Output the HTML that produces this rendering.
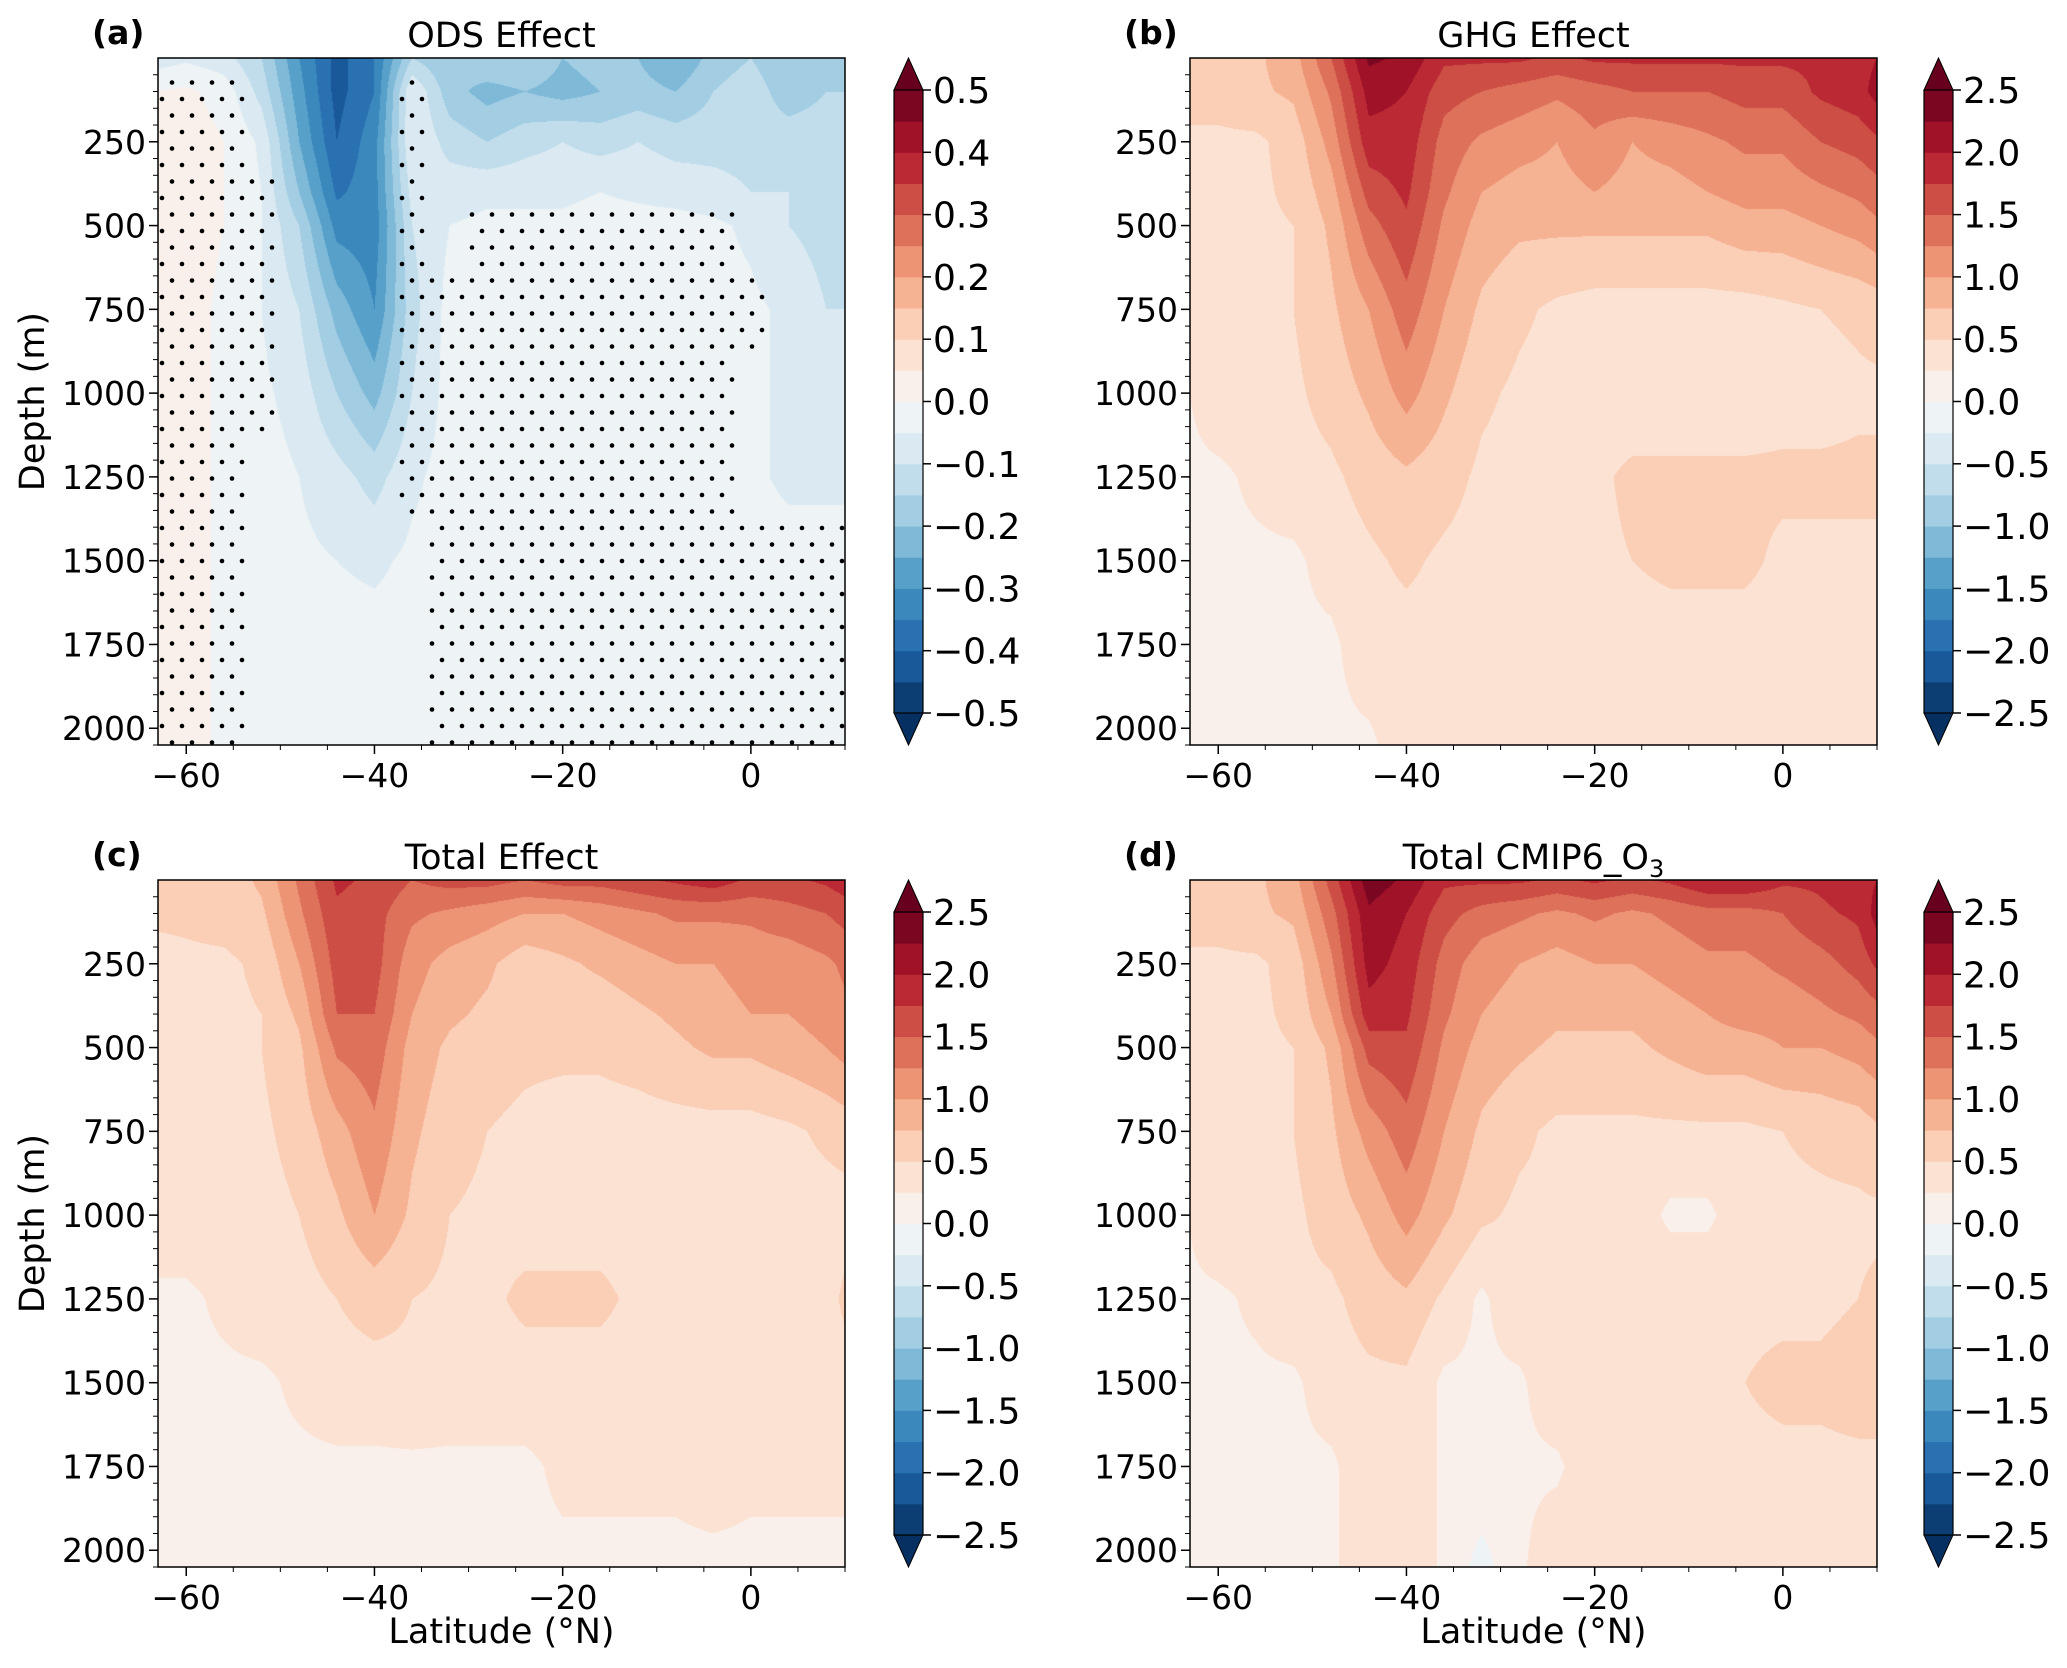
<!DOCTYPE html>
<html><head><meta charset="utf-8"><style>
body{margin:0;background:#fff;}
#wrap{position:relative;width:2067px;height:1668px;overflow:hidden;font-family:"DejaVu Sans","Liberation Sans",sans-serif;}
canvas{position:absolute;}
svg{position:absolute;left:0;top:0;font-family:"DejaVu Sans","Liberation Sans",sans-serif;}
</style></head><body>
<div id="wrap">
<canvas id="ca" width="687" height="687" style="left:158px;top:58px"></canvas>
<canvas id="cb" width="687" height="687" style="left:1190px;top:58px"></canvas>
<canvas id="cc" width="687" height="687" style="left:158px;top:880px"></canvas>
<canvas id="cd" width="687" height="687" style="left:1190px;top:880px"></canvas>
<svg id="svg" width="2067" height="1668"></svg>
</div>
<script>
const lats=[-64,-60,-56,-52,-48,-44,-40,-36,-32,-28,-24,-20,-16,-12,-8,-4,0,4,8,10];
const depths=[0,100,250,400,500,750,1000,1250,1500,1750,2050];
const xTicks=[-60,-40,-20,0];
const yTicks=[250,500,750,1000,1250,1500,1750,2000];
const odsVals=[
[-0.08,-0.06,-0.08,-0.15,-0.3,-0.42,-0.35,-0.15,-0.2,-0.15,-0.15,-0.2,-0.18,-0.2,-0.25,-0.18,-0.15,-0.2,-0.2,-0.2],
[0.0,0.01,-0.02,-0.12,-0.28,-0.42,-0.35,-0.05,-0.18,-0.22,-0.2,-0.22,-0.2,-0.18,-0.2,-0.15,-0.12,-0.18,-0.15,-0.15],
[0.02,0.03,0.0,-0.06,-0.25,-0.4,-0.32,-0.05,-0.12,-0.15,-0.12,-0.1,-0.12,-0.1,-0.12,-0.12,-0.12,-0.12,-0.12,-0.12],
[0.02,0.03,0.0,-0.05,-0.2,-0.36,-0.32,-0.08,-0.07,-0.06,-0.06,-0.06,-0.05,-0.06,-0.07,-0.08,-0.1,-0.1,-0.12,-0.1],
[0.02,0.02,0.0,-0.05,-0.15,-0.32,-0.33,-0.1,-0.05,-0.04,-0.04,-0.04,-0.03,-0.03,-0.03,-0.04,-0.06,-0.1,-0.12,-0.1],
[0.02,0.02,-0.01,-0.05,-0.1,-0.22,-0.3,-0.12,-0.03,-0.03,-0.03,-0.03,-0.03,-0.03,-0.03,-0.03,-0.04,-0.06,-0.1,-0.1],
[0.02,0.02,-0.01,-0.04,-0.07,-0.15,-0.22,-0.1,-0.03,-0.03,-0.03,-0.03,-0.03,-0.03,-0.03,-0.03,-0.04,-0.06,-0.07,-0.07],
[0.02,0.02,-0.01,-0.03,-0.05,-0.08,-0.12,-0.06,-0.03,-0.03,-0.03,-0.03,-0.03,-0.03,-0.03,-0.03,-0.04,-0.06,-0.06,-0.06],
[0.02,0.02,-0.01,-0.03,-0.04,-0.05,-0.06,-0.04,-0.03,-0.03,-0.03,-0.03,-0.03,-0.03,-0.03,-0.03,-0.03,-0.03,-0.03,-0.03],
[0.02,0.02,-0.01,-0.03,-0.03,-0.03,-0.03,-0.03,-0.03,-0.03,-0.03,-0.03,-0.03,-0.03,-0.03,-0.03,-0.03,-0.03,-0.03,-0.03],
[0.02,0.02,-0.01,-0.03,-0.03,-0.03,-0.03,-0.03,-0.03,-0.03,-0.03,-0.03,-0.03,-0.03,-0.03,-0.03,-0.03,-0.03,-0.03,-0.03]];
const odsStipple=[
[0,0,0,0,0,0,0,0,0,0,0,0,0,0,0,0,0,0,0,0],
[1,1,1,0,0,0,0,1,0,0,0,0,0,0,0,0,0,0,0,0],
[1,1,1,0,0,0,0,1,0,0,0,0,0,0,0,0,0,0,0,0],
[1,1,1,1,0,0,0,1,0,0,0,0,0,0,0,0,0,0,0,0],
[1,1,1,1,0,0,0,1,0,1,1,1,1,1,1,1,0,0,0,0],
[1,1,1,1,0,0,0,1,1,1,1,1,1,1,1,1,1,0,0,0],
[1,1,1,1,0,0,0,1,1,1,1,1,1,1,1,1,0,0,0,0],
[1,1,1,0,0,0,0,1,1,1,1,1,1,1,1,1,0,0,0,0],
[1,1,1,0,0,0,0,0,1,1,1,1,1,1,1,1,1,1,1,1],
[1,1,1,0,0,0,0,0,1,1,1,1,1,1,1,1,1,1,1,1],
[1,1,1,0,0,0,0,0,1,1,1,1,1,1,1,1,1,1,1,1]];
const ghgVals=[
[0.6,0.7,0.7,0.9,1.5,2.3,2.2,1.8,1.8,1.8,1.7,1.8,1.8,1.8,1.8,1.8,1.8,1.8,1.9,2.0],
[0.6,0.6,0.7,0.8,1.3,2.1,2.0,1.6,1.5,1.4,1.3,1.4,1.5,1.5,1.5,1.6,1.6,1.8,1.9,2.1],
[0.45,0.45,0.45,0.6,1.1,1.9,1.9,1.4,1.2,1.1,1.0,1.2,1.0,1.1,1.2,1.3,1.3,1.5,1.6,1.7],
[0.45,0.45,0.45,0.55,0.9,1.6,1.8,1.3,1.0,0.9,0.9,1.0,0.9,0.9,1.0,1.1,1.1,1.2,1.3,1.4],
[0.45,0.45,0.45,0.5,0.8,1.4,1.7,1.2,0.9,0.8,0.8,0.8,0.8,0.8,0.8,0.9,0.9,1.0,1.1,1.2],
[0.45,0.45,0.45,0.5,0.7,1.0,1.4,1.0,0.7,0.55,0.45,0.4,0.4,0.4,0.4,0.4,0.45,0.5,0.55,0.6],
[0.2,0.4,0.4,0.45,0.6,0.8,1.1,0.8,0.55,0.45,0.4,0.35,0.35,0.35,0.35,0.35,0.4,0.4,0.45,0.45],
[0.2,0.2,0.3,0.4,0.45,0.6,0.7,0.6,0.45,0.4,0.4,0.45,0.55,0.55,0.55,0.55,0.55,0.55,0.55,0.55],
[0.2,0.2,0.2,0.2,0.35,0.45,0.55,0.45,0.4,0.4,0.45,0.45,0.5,0.55,0.55,0.55,0.45,0.45,0.45,0.45],
[0.2,0.2,0.2,0.2,0.2,0.4,0.4,0.4,0.4,0.4,0.4,0.4,0.4,0.4,0.4,0.4,0.4,0.4,0.4,0.4],
[0.2,0.2,0.2,0.2,0.2,0.2,0.4,0.4,0.4,0.4,0.4,0.4,0.4,0.4,0.4,0.4,0.4,0.4,0.4,0.4]];
const totVals=[
[0.6,0.6,0.6,0.8,1.3,1.8,1.7,1.5,1.6,1.6,1.5,1.6,1.6,1.7,1.8,1.9,1.7,1.7,1.8,1.9],
[0.55,0.55,0.6,0.7,1.2,1.7,1.6,1.3,1.2,1.1,1.0,1.0,1.1,1.2,1.3,1.3,1.3,1.4,1.5,1.6],
[0.4,0.45,0.45,0.55,1.0,1.6,1.6,1.1,0.9,0.8,0.6,0.7,0.8,0.9,1.0,1.0,1.1,1.1,1.2,1.3],
[0.4,0.4,0.45,0.5,0.8,1.5,1.5,1.0,0.8,0.7,0.6,0.6,0.6,0.7,0.8,0.9,1.0,1.0,1.1,1.2],
[0.4,0.4,0.4,0.5,0.7,1.3,1.4,0.9,0.7,0.6,0.55,0.55,0.55,0.6,0.7,0.8,0.8,0.9,1.0,1.1],
[0.4,0.4,0.4,0.45,0.6,0.9,1.2,0.8,0.6,0.5,0.45,0.4,0.4,0.4,0.4,0.4,0.4,0.45,0.55,0.6],
[0.4,0.4,0.4,0.4,0.5,0.7,1.0,0.7,0.5,0.45,0.4,0.4,0.4,0.4,0.4,0.4,0.4,0.4,0.4,0.4],
[0.2,0.2,0.3,0.4,0.4,0.5,0.6,0.5,0.45,0.45,0.55,0.55,0.55,0.45,0.4,0.4,0.4,0.4,0.4,0.55],
[0.2,0.2,0.2,0.2,0.3,0.4,0.4,0.45,0.4,0.4,0.4,0.4,0.4,0.4,0.4,0.4,0.4,0.4,0.4,0.4],
[0.2,0.2,0.2,0.2,0.2,0.2,0.2,0.2,0.2,0.2,0.2,0.3,0.3,0.3,0.3,0.35,0.3,0.3,0.3,0.3],
[0.2,0.2,0.2,0.2,0.2,0.2,0.2,0.1,0.15,0.2,0.2,0.2,0.2,0.2,0.2,0.2,0.2,0.2,0.2,0.2]];
const cmipVals=[
[0.6,0.7,0.7,0.9,1.6,2.4,2.2,1.8,1.8,1.8,1.7,1.8,1.7,1.8,2.0,2.0,1.8,1.8,1.9,2.0],
[0.6,0.6,0.7,0.8,1.4,2.2,2.0,1.6,1.4,1.3,1.2,1.3,1.2,1.3,1.4,1.4,1.5,1.7,1.8,2.1],
[0.45,0.45,0.45,0.6,1.2,2.1,1.9,1.4,1.1,1.0,0.9,1.0,1.0,1.1,1.2,1.2,1.3,1.4,1.6,1.8],
[0.45,0.45,0.45,0.55,1.0,1.9,1.8,1.3,1.0,0.9,0.8,0.8,0.8,0.9,1.0,1.1,1.1,1.2,1.3,1.4],
[0.45,0.45,0.45,0.5,0.8,1.6,1.7,1.2,0.9,0.8,0.7,0.7,0.7,0.8,0.9,0.9,1.0,1.0,1.1,1.2],
[0.45,0.45,0.45,0.5,0.7,1.1,1.4,1.0,0.7,0.55,0.45,0.45,0.45,0.45,0.45,0.45,0.5,0.55,0.6,0.7],
[0.2,0.45,0.45,0.45,0.6,0.8,1.1,0.8,0.55,0.45,0.45,0.4,0.4,0.2,0.2,0.4,0.45,0.45,0.45,0.45],
[0.2,0.2,0.3,0.45,0.45,0.6,0.7,0.45,0.2,0.45,0.45,0.45,0.45,0.45,0.45,0.45,0.45,0.45,0.5,0.55],
[0.2,0.2,0.2,0.2,0.4,0.45,0.45,0.2,0.2,0.2,0.45,0.45,0.45,0.45,0.45,0.5,0.55,0.55,0.6,0.6],
[0.2,0.2,0.2,0.2,0.2,0.45,0.45,0.2,0.2,0.2,0.2,0.45,0.45,0.45,0.45,0.45,0.45,0.45,0.45,0.45],
[0.2,0.2,0.2,0.2,0.2,0.45,0.45,0.2,-0.1,0.2,0.45,0.45,0.45,0.45,0.45,0.45,0.45,0.45,0.45,0.45]];
const odsTicks=["0.5","0.4","0.3","0.2","0.1","0.0","\u22120.1","\u22120.2","\u22120.3","\u22120.4","\u22120.5"];
const bigTicks=["2.5","2.0","1.5","1.0","0.5","0.0","\u22120.5","\u22121.0","\u22121.5","\u22122.0","\u22122.5"];

const anchors=["#053061","#2166ac","#4393c3","#92c5de","#d1e5f0","#f7f7f7","#fddbc7","#f4a582","#d6604d","#b2182b","#67001f"].map(h=>[parseInt(h.slice(1,3),16),parseInt(h.slice(3,5),16),parseInt(h.slice(5,7),16)]);
function cmap(t){t=Math.max(0,Math.min(1,t));const f=t*10,i=Math.min(9,Math.floor(f)),r=f-i;return anchors[i].map((c,k)=>Math.round(c+(anchors[i+1][k]-c)*r));}
const bands=[];for(let i=0;i<20;i++)bands.push(cmap((i+0.5)/20));
const under=anchors[0],over=anchors[10];
const PW=687,PH=687,LAT0=-63,LAT1=10,D0=0,D1=2050;
const xs=l=>(l-LAT0)/(LAT1-LAT0)*PW;
const ys=d=>(d-D0)/(D1-D0)*PH;
function sample(vals,lat,d){
  let i=0;while(i<lats.length-2&&lats[i+1]<lat)i++;
  let j=0;while(j<depths.length-2&&depths[j+1]<d)j++;
  let u=(lat-lats[i])/(lats[i+1]-lats[i]);u=Math.max(0,Math.min(1,u));
  let v=(d-depths[j])/(depths[j+1]-depths[j]);v=Math.max(0,Math.min(1,v));
  return vals[j][i]*(1-u)*(1-v)+vals[j][i+1]*u*(1-v)+vals[j+1][i]*(1-u)*v+vals[j+1][i+1]*u*v;
}
function drawField(id,vals,vmax){
  const c=document.getElementById(id),ctx=c.getContext('2d'),img=ctx.createImageData(PW,PH);
  for(let py=0;py<PH;py++){const d=D0+(py+0.5)/PH*(D1-D0);
    for(let px=0;px<PW;px++){const lat=LAT0+(px+0.5)/PW*(LAT1-LAT0);
      const v=sample(vals,lat,d);let k=Math.floor((v+vmax)/(2*vmax)*20);
      const col=k<0?under:k>19?over:bands[k];const o=(py*PW+px)*4;
      img.data[o]=col[0];img.data[o+1]=col[1];img.data[o+2]=col[2];img.data[o+3]=255;}}
  ctx.putImageData(img,0,0);
}
drawField('ca',odsVals,0.5);drawField('cb',ghgVals,2.5);drawField('cc',totVals,2.5);drawField('cd',cmipVals,2.5);

const NS='http://www.w3.org/2000/svg',svg=document.getElementById('svg');
function el(tag,attrs,parent,text){const e=document.createElementNS(NS,tag);for(const k in attrs)e.setAttribute(k,attrs[k]);if(text!==undefined)e.textContent=text;(parent||svg).appendChild(e);return e;}
function rgb(c){return `rgb(${c[0]},${c[1]},${c[2]})`;}
const panels=[
 {L:158,T:58,tag:"(a)",title:"ODS Effect",ticks:odsTicks,cbx:894,name:"panel-a",stip:odsStipple,ylab:true,xlab:false},
 {L:1190,T:58,tag:"(b)",title:"GHG Effect",ticks:bigTicks,cbx:1924,name:"panel-b",ylab:false,xlab:false},
 {L:158,T:880,tag:"(c)",title:"Total Effect",ticks:bigTicks,cbx:894,name:"panel-c",ylab:true,xlab:true},
 {L:1190,T:880,tag:"(d)",title:"Total  CMIP6_O",sub:"3",ticks:bigTicks,cbx:1924,name:"panel-d",ylab:false,xlab:true}];
panels.forEach(p=>{
  const g=el('g',{});
  
  
  if(p.stip){
    const sg=el('g',{},g);
    
    
    let row=0;
    for(let y=8;y<PH;y+=16.5,row++){
      for(let x=(row%2?10:0)+4;x<PW;x+=20){
        const lat=LAT0+x/PW*(LAT1-LAT0),d=D0+y/PH*(D1-D0);
        let i=0,best=1e9;lats.forEach((l,k)=>{if(Math.abs(l-lat)<best){best=Math.abs(l-lat);i=k;}});
        let j=0;best=1e9;depths.forEach((dd,k)=>{if(Math.abs(dd-d)<best){best=Math.abs(dd-d);j=k;}});
        if(p.stip[j][i]){const dot=el('circle',{cx:p.L+x,cy:p.T+y,r:2.3,fill:'#000'},sg);}
      }}
  }
  const fr=el('rect',{x:p.L,y:p.T,width:PW,height:PH,fill:'none',stroke:'#000','stroke-width':1.5},g);
  
  xTicks.forEach(t=>{const x=p.L+xs(t);
    el('line',{x1:x,x2:x,y1:p.T+PH,y2:p.T+PH+9,stroke:'#000','stroke-width':1.5},g);
    const tx=el('text',{x:x,y:p.T+PH+42,'font-size':33,'text-anchor':'middle'},g,t<0?'\u2212'+(-t):String(t));
    });
  for(let t=-60;t<=10;t+=5){const x=p.L+xs(t);el('line',{x1:x,x2:x,y1:p.T+PH,y2:p.T+PH+5,stroke:'#000','stroke-width':1},g);}
  yTicks.forEach(t=>{const y=p.T+ys(t);
    el('line',{x1:p.L-9,x2:p.L,y1:y,y2:y,stroke:'#000','stroke-width':1.5},g);
    const tx=el('text',{x:p.L-12,y:y+12,'font-size':33,'text-anchor':'end'},g,String(t));
    });
  for(let t=50;t<=2050;t+=50){const y=p.T+ys(t);el('line',{x1:p.L-5,x2:p.L,y1:y,y2:y,stroke:'#000','stroke-width':1},g);}
  const ti=el('text',{x:p.L+PW/2,y:p.T-11,'font-size':35,'text-anchor':'middle'},g,p.title);
  if(p.sub){el('tspan',{'font-size':24,dy:8},ti,p.sub);}
  
  const tg=el('text',{x:p.L-66,y:p.T-14,'font-size':33,'font-weight':'bold','text-anchor':'start'},g,p.tag);
  
  if(p.ylab){const yl=el('text',{x:0,y:0,'font-size':35,'text-anchor':'middle',transform:`translate(44,${p.T+PH/2}) rotate(-90)`},g,'Depth (m)');
    }
  if(p.xlab){const xl=el('text',{x:p.L+PW/2,y:1643,'font-size':35,'text-anchor':'middle'},g,'Latitude (\u00b0N)');
    }
  const cb=el('g',{},g);
  
  const cx=p.cbx,cw=29,top=p.T+32,bot=p.T+PH-32,bh=(bot-top)/20;
  for(let i=0;i<20;i++){el('rect',{x:cx,y:bot-(i+1)*bh,width:cw,height:bh+0.5,fill:rgb(bands[i])},cb);}
  el('polygon',{points:`${cx},${top} ${cx+cw},${top} ${cx+cw/2},${p.T}`,fill:rgb(over),stroke:'#000','stroke-width':1},cb);
  el('polygon',{points:`${cx},${bot} ${cx+cw},${bot} ${cx+cw/2},${p.T+PH}`,fill:rgb(under),stroke:'#000','stroke-width':1},cb);
  el('rect',{x:cx,y:top,width:cw,height:bot-top,fill:'none',stroke:'#000','stroke-width':1.2},cb);
  p.ticks.forEach((t,k)=>{const y=top+k*(bot-top)/10;
    el('line',{x1:cx+cw,x2:cx+cw+8,y1:y,y2:y,stroke:'#000','stroke-width':1.5},cb);
    const tx=el('text',{x:cx+cw+10,y:y+13,'font-size':36},cb,t);
    });
});
</script>
</body></html>
